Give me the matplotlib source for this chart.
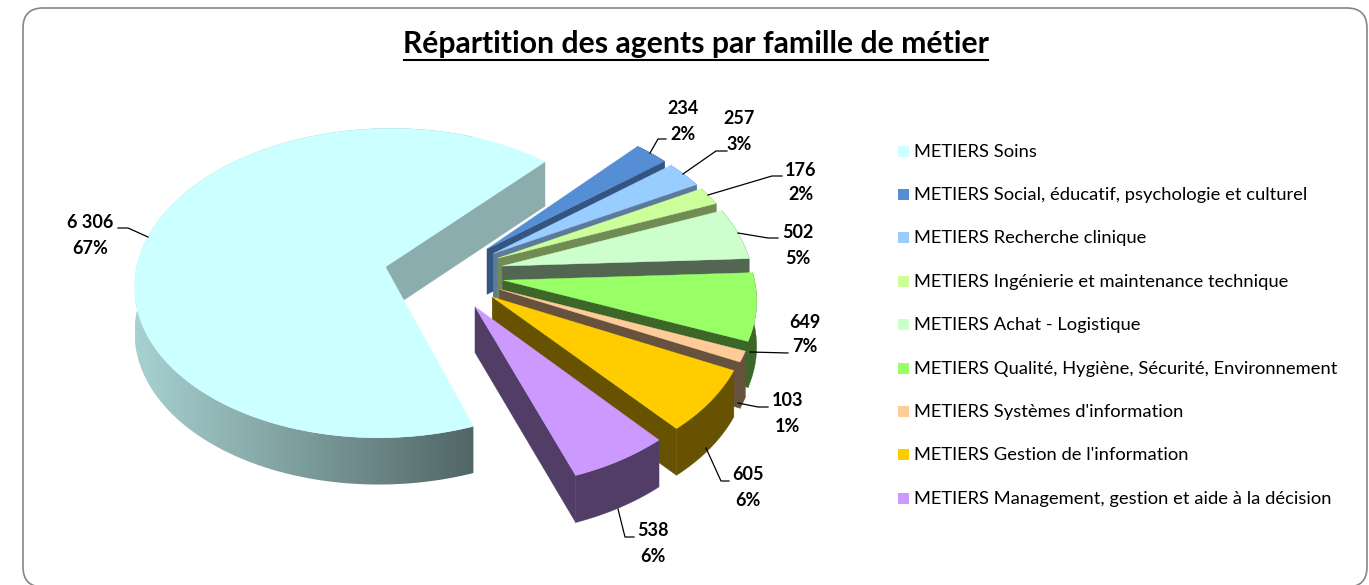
import numpy as np
import matplotlib
matplotlib.use('Agg')
import matplotlib.pyplot as plt
from matplotlib.patches import FancyBboxPatch, Polygon, Rectangle
from matplotlib.colors import to_rgb

plt.rcParams['font.family'] = ['Lato', 'DejaVu Sans']

title = "Répartition des agents par famille de métier"
categories = ["METIERS Soins",
              "METIERS Social, éducatif, psychologie et culturel",
              "METIERS Recherche clinique",
              "METIERS Ingénierie et maintenance technique",
              "METIERS Achat - Logistique",
              "METIERS Qualité, Hygiène, Sécurité, Environnement",
              "METIERS Systèmes d'information",
              "METIERS Gestion de l'information",
              "METIERS Management, gestion et aide à la décision"]
values = [6306, 234, 257, 176, 502, 649, 103, 605, 538]

colors = ['#CCFFFF', '#558ED5', '#99CCFF', '#CCFF99', '#CCFFCC', '#99FF66', '#FFCC99', '#FFCC00', '#CC99FF']
side_shade = [0.68, 0.6, 0.6, 0.55, 0.4, 0.4, 0.4, 0.4, 0.4]

# position du texte (centre x, y ligne 1, y ligne 2) et trait de rappel
label_pos = [(90, 222, 248), (683, 108, 135), (739, 118, 145), (801, 170, 195), (798, 232, 258),
             (805, 322, 347), (788, 401, 427), (748, 474, 500), (653, 531, 557)]
leaders = [[(148, 237), (128, 228), (118, 228)],
           [(650, 153), (658, 139), (666, 139)],
           [(683, 174), (716, 151), (727, 151)],
           [(708, 195), (772, 176), (782, 176)],
           [(738, 233), (768, 238), (778, 238)],
           [(750, 352), (788, 353)],
           [(738, 403), (758, 407), (768, 407)],
           [(706, 448), (721, 481), (729, 481)],
           [(618, 509), (625, 537), (634, 537)]]

CX, CY = 444, 274
RX, RY = 250, 154.5
PERSP = 0.105
EXPLODE = 0.24
DEPTH = 45.5
START = 160.0


def project(u, v, h=0.0):
    '''u: droite, v: vers le spectateur, h=1: bas de la tranche'''
    s = 1.0 / (1.0 - PERSP * v)
    x = CX + RX * u * s
    y = CY + RY * v * s + h * DEPTH * (1 + 0.03 * v)
    return np.column_stack([x, y])


def shade(color, k):
    return tuple(c * k for c in to_rgb(color))


def draw_slice(ax, a0, a1, color, k, gradient=False):
    mid = np.radians((a0 + a1) / 2)
    ou, ov = EXPLODE * np.sin(mid), -EXPLODE * np.cos(mid)
    t = np.radians(np.linspace(a0, a1, 300))
    u = ou + np.sin(t)
    v = ov - np.cos(t)
    top = project(u, v)
    bottom = project(u, v, 1.0)
    apex_top = project(np.array([ou]), np.array([ov]))
    apex_bottom = project(np.array([ou]), np.array([ov]), 1.0)

    # paroi extérieure
    wall = np.vstack([top, bottom[::-1]])
    if gradient:
        x_left, x_right = wall[:, 0].min(), bottom[0, 0]
        ramp = np.linspace(0.82, 0.40, 256)
        img = np.array([[shade(color, r) for r in ramp]])
        im = ax.imshow(img, extent=(x_left, x_right, wall[:, 1].max(), wall[:, 1].min()),
                       aspect='auto', zorder=1, interpolation='bilinear')
        clip = Polygon(wall, closed=True, transform=ax.transData)
        im.set_clip_path(clip)
    else:
        ax.add_patch(Polygon(wall, closed=True, fc=shade(color, k), ec=shade(color, k), lw=0.3))

    # face de coupe (bord de fin, sens horaire)
    face = np.vstack([apex_top, top[-1:], bottom[-1:], apex_bottom])
    ax.add_patch(Polygon(face, closed=True, fc=shade(color, k), ec=shade(color, k), lw=0.3))

    # dessus
    ax.add_patch(Polygon(np.vstack([apex_top, top]), closed=True, fc=color, ec=color, lw=0.3))


fig = plt.figure(figsize=(13.69, 5.85), dpi=100)
ax = fig.add_axes([0, 0, 1, 1])

# cadre arrondi, le bas sort de l'image
ax.add_patch(FancyBboxPatch((23, 8), 1344, 579, boxstyle='round,pad=0,rounding_size=20',
                            fc='white', ec='#868686', lw=1.2, zorder=0))

total = float(sum(values))
sweeps = [v / total * 360 for v in values]
starts = START + np.concatenate([[0], np.cumsum(sweeps)[:-1]])

for i in range(len(values)):
    draw_slice(ax, starts[i], starts[i] + sweeps[i], colors[i], side_shade[i], gradient=(i == 0))

# étiquettes
for i in range(len(values)):
    x, y1, y2 = label_pos[i]
    value_txt = f"{values[i]:,}".replace(",", " ")
    pct_txt = f"{round(values[i] / total * 100):d}%"
    ax.text(x, y1, value_txt, ha='center', va='center', fontsize=13, fontweight='bold', color='black')
    ax.text(x, y2, pct_txt, ha='center', va='center', fontsize=13, fontweight='bold', color='black')
    xs, ys = zip(*leaders[i])
    ax.plot(xs, ys, color='black', lw=0.9)

# légende
for i in range(len(categories)):
    y = 151.1 + i * 43.4
    ax.add_patch(Rectangle((898, y - 5.5), 11, 11, fc=colors[i], ec='none'))
    ax.text(914, y + 5.5, categories[i], ha='left', va='baseline', fontsize=13.2, color='black')

# titre souligné
ax.text(696, 53, title, ha='center', va='baseline', fontsize=21.7, fontweight='bold', color='black')
ax.plot([404, 988], [59.5, 59.5], color='black', lw=1.5)

ax.set_xlim(0, 1369)
ax.set_ylim(585, 0)
ax.axis('off')

fig.savefig('out.png', dpi=100, facecolor='white')
